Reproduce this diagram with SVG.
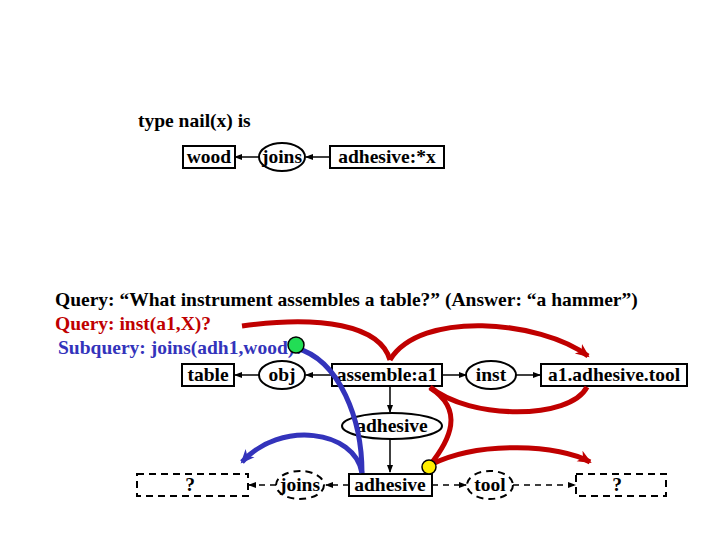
<svg xmlns="http://www.w3.org/2000/svg" width="720" height="540" viewBox="0 0 720 540">
<defs>
<style>
text{font-family:"Liberation Serif",serif;font-weight:bold;font-size:19.5px}
.n{fill:#fff;stroke:#000;stroke-width:2}
.d{fill:#fff;stroke:#000;stroke-width:2;stroke-dasharray:7,5}
.c{stroke:#000;stroke-width:1.5;fill:none}
.cd{stroke:#000;stroke-width:1.5;fill:none;stroke-dasharray:6,5}
.r{stroke:#c00000;stroke-width:5;fill:none}
.b{stroke:#3333bb;stroke-width:5;fill:none}
</style>
<marker id="a" markerWidth="8" markerHeight="8" refX="7" refY="4" orient="auto" markerUnits="userSpaceOnUse"><path d="M0,1 L8,4 L0,7z" fill="#000"/></marker>
<marker id="ar" markerWidth="16" markerHeight="16" refX="12" refY="8" orient="auto" markerUnits="userSpaceOnUse"><path d="M0,2 L14,8 L0,14 L4,8z" fill="#c00000"/></marker>
<marker id="ab" markerWidth="16" markerHeight="16" refX="12" refY="8" orient="auto" markerUnits="userSpaceOnUse"><path d="M0,2 L14,8 L0,14 L4,8z" fill="#3333bb"/></marker>
</defs>
<rect width="720" height="540" fill="#fff"/>
<text x="138" y="127">type nail(x) is</text>
<text x="55" y="306">Query: “What instrument assembles a table?” (Answer: “a hammer”)</text>
<text x="55" y="330" fill="#c00000">Query: inst(a1,X)?</text>
<text x="58" y="354" fill="#3333bb">Subquery: joins(adh1,wood)?</text>
<g id="connectors">
<line class="c" x1="259" y1="157" x2="235" y2="157" marker-end="url(#a)"/>
<line class="c" x1="330" y1="157" x2="306" y2="157" marker-end="url(#a)"/>
<line class="c" x1="259" y1="375" x2="235" y2="375" marker-end="url(#a)"/>
<line class="c" x1="332" y1="375" x2="306" y2="375" marker-end="url(#a)"/>
<line class="c" x1="442" y1="375" x2="466" y2="375" marker-end="url(#a)"/>
<line class="c" x1="516" y1="375" x2="540" y2="375" marker-end="url(#a)"/>
<line class="c" x1="390" y1="386" x2="390" y2="412" marker-end="url(#a)"/>
<line class="c" x1="390" y1="439" x2="390" y2="472" marker-end="url(#a)"/>
<line class="cd" x1="349" y1="485" x2="326" y2="485" marker-end="url(#a)"/>
<line class="cd" x1="276" y1="485" x2="249" y2="485" marker-end="url(#a)"/>
<line class="cd" x1="432" y1="485" x2="466" y2="485" marker-end="url(#a)"/>
<line class="cd" x1="513" y1="485" x2="575" y2="485" marker-end="url(#a)"/>
</g>
<g id="wood"><rect class="n" x="183" y="146" width="52" height="22"/><text x="209" y="163" text-anchor="middle">wood</text></g>
<g id="joins1"><ellipse class="n" cx="282" cy="157" rx="23" ry="14"/><text x="282" y="163" text-anchor="middle">joins</text></g>
<g id="adhx"><rect class="n" x="330" y="146" width="114" height="22"/><text x="387" y="163" text-anchor="middle">adhesive:*x</text></g>
<g id="table"><rect class="n" x="182" y="364" width="52" height="22"/><text x="208" y="381" text-anchor="middle">table</text></g>
<g id="obj"><ellipse class="n" cx="282" cy="375" rx="23" ry="14"/><text x="282" y="381" text-anchor="middle">obj</text></g>
<g id="assemble"><rect class="n" x="332" y="364" width="110" height="22"/><text x="387" y="381" text-anchor="middle">assemble:a1</text></g>
<g id="inst"><ellipse class="n" cx="491" cy="375" rx="25" ry="14"/><text x="491" y="381" text-anchor="middle">inst</text></g>
<g id="tool1"><rect class="n" x="541" y="364" width="146" height="22"/><text x="614" y="381" text-anchor="middle">a1.adhesive.tool</text></g>
<g id="adhE"><ellipse class="n" cx="392" cy="426" rx="50" ry="13"/><text x="392" y="432" text-anchor="middle">adhesive</text></g>
<g id="q1"><rect class="d" x="137" y="474" width="111" height="22"/><text x="190" y="491" text-anchor="middle">?</text></g>
<g id="joins2"><ellipse class="d" cx="300" cy="485" rx="24" ry="14"/><text x="300" y="491" text-anchor="middle">joins</text></g>
<g id="adhB"><rect class="n" x="349" y="474" width="83" height="22"/><text x="390" y="491" text-anchor="middle">adhesive</text></g>
<g id="tool2"><ellipse class="d" cx="490" cy="485" rx="23" ry="14"/><text x="490" y="491" text-anchor="middle">tool</text></g>
<g id="q2"><rect class="d" x="576" y="474" width="90" height="22"/><text x="617" y="491" text-anchor="middle">?</text></g>
<g id="highlights">
<path class="r" d="M242,326 C320,315 380,325 390,360"/>
<path class="r" d="M390,360 C420,310 540,320 588,356" marker-end="url(#ar)"/>
<path class="r" d="M587,387 C570,420 470,420 430,387"/>
<path class="r" d="M430,388 C465,410 450,440 430,465"/>
<path class="r" d="M430,465 C480,440 560,445 590,462" marker-end="url(#ar)"/>
<path class="b" d="M296,348 C340,360 362,420 362,473"/>
<path class="b" d="M362,473 C355,430 280,420 242,462" marker-end="url(#ab)"/>
<circle cx="296" cy="345" r="8" fill="#22dd55" stroke="#000" stroke-width="1.5"/>
<circle cx="429" cy="467" r="7" fill="#ffee00" stroke="#000" stroke-width="1.5"/>
</g>
</svg>
